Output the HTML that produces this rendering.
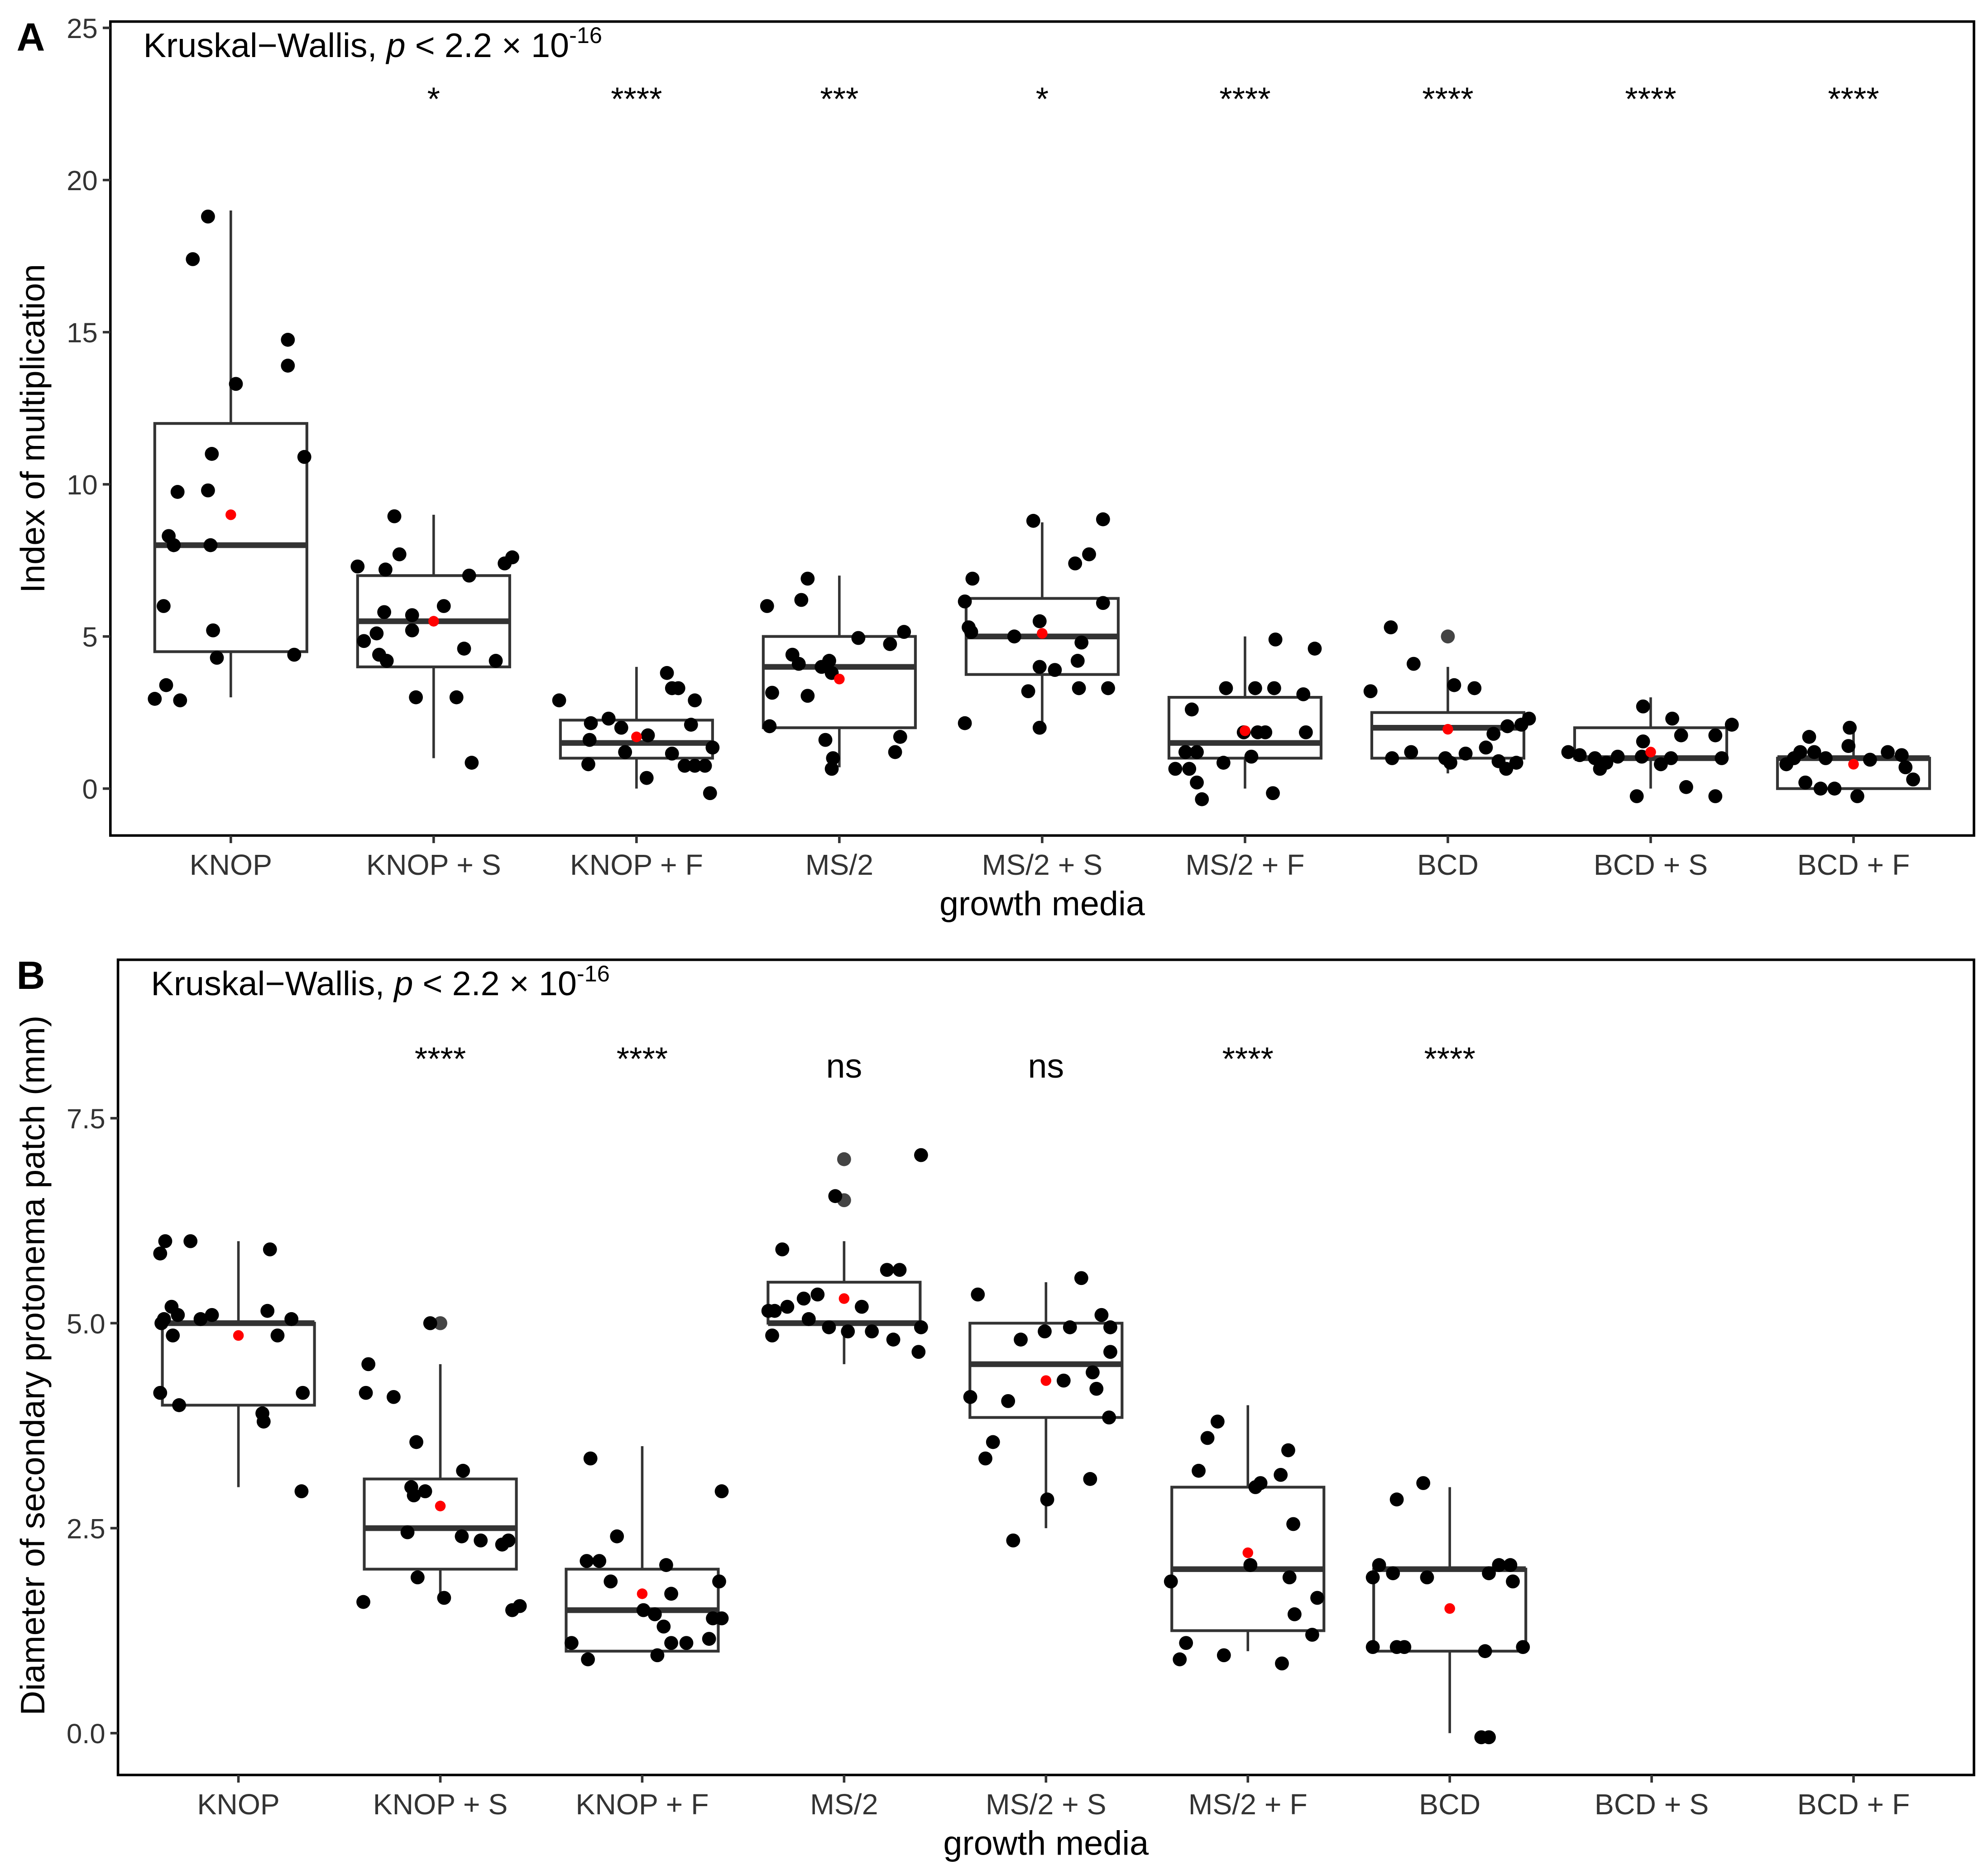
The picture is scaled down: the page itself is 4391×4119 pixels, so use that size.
<!DOCTYPE html>
<html><head><meta charset="utf-8"><style>
html,body{margin:0;padding:0;background:#fff}
svg{display:block}
text{font-family:"Liberation Sans",Arial,sans-serif}
</style></head><body>
<svg id="fig" width="4391" height="4119" viewBox="0 0 1568 1471" xmlns="http://www.w3.org/2000/svg">
<rect x="0" y="0" width="1568" height="1471" fill="#fff"/>
<g id="pA"></g>
<g id="pB"></g>
</svg>
<script>
const categories = ["KNOP","KNOP + S","KNOP + F","MS/2","MS/2 + S","MS/2 + F","BCD","BCD + S","BCD + F"];

// Panel A data
const aTicks = [0,5,10,15,20,25];
const aSig = ["","*","****","***","*","****","****","****","****"];
// box stats: [whiskerLow, q1, median, q3, whiskerHigh, mean]
const aStats = [
 [3,4.5,8,12,19,9],[1,4,5.5,7,9,5.5],[0,1,1.5,2.25,4,1.7],[0.7,2,4,5,7,3.6],[2,3.75,5,6.25,8.75,5.1],
 [0,1,1.5,3,5,1.9],[0.5,1,2,2.5,4,1.95],[0,1,1,2,3,1.2],[0,0,1,1,2,0.8]];
const aOutliers = [[],[],[],[],[],[],[5],[],[]];
const aValues = [
 [2.95,3.4,2.9,17.4,18.8,13.3,14.75,13.9,10.9,11,9.75,9.8,8.3,8,8,6,5.2,4.3,4.4],
 [7.3,7.2,7.7,8.95,7.4,7.6,7.0,6.0,5.7,5.8,4.85,5.1,4.2,4.4,5.2,4.6,4.2,3.0,3.0,0.85],
 [2.9,2.15,2.3,2.0,1.6,1.2,0.8,1.75,3.8,3.3,3.3,2.9,2.1,1.15,0.75,0.75,0.75,1.35,0.35,-0.15],
 [6.0,6.9,6.2,4.4,4.1,2.05,3.15,3.05,1.6,1.0,0.65,4.2,4.0,3.8,4.95,4.75,5.15,1.7,1.2],
 [6.15,6.9,5.3,5.15,5.0,8.8,5.5,4.0,3.9,4.2,4.8,8.85,7.7,7.4,6.1,3.3,3.3,3.2,2.0,2.15],
 [2.6,3.3,3.3,3.3,3.1,4.9,4.6,1.85,1.85,1.85,1.85,1.2,1.2,1.05,0.85,0.65,0.65,0.2,-0.35,-0.15],
 [5.3,3.2,4.1,3.4,3.3,1.0,1.2,1.0,0.85,1.35,0.9,0.65,0.85,1.8,2.05,2.3,2.1,1.15],
 [1.2,1.1,1.0,0.65,0.85,1.05,1.05,1.55,0.8,1.0,1.75,2.3,2.7,-0.25,0.05,-0.25,1.0,1.75,2.1],
 [0.8,1.0,1.2,1.7,1.2,1.0,2.0,1.4,0.95,1.2,1.1,0.7,0.3,0.2,0,0,-0.25]];
// horizontal jitter in 1/160 of a category step
const aJitter = [
 [-60,-51,-40,-30,-18,4,45,45,58,-15,-42,-18,-49,-45,-16,-53,-14,-11,50],
 [-60,-38,-27,-31,56,62,28,8,-17,-39,-55,-45,-37,-43,-17,24,49,-14,18,30],
 [-61,-36,-22,-12,-37,-9,-38,9,24,28,33,46,43,28,38,46,54,60,8,58],
 [-57,-25,-30,-37,-32,-55,-53,-25,-11,-5,-6,-8,-14,-6,15,40,51,48,44],
 [-61,-55,-58,-56,-22,-7,-2,-2,10,28,31,48,37,26,48,29,52,-11,-2,-61],
 [-42,-15,8,23,46,24,55,10,-1,16,48,-47,-38,5,-17,-55,-44,-38,-34,22],
 [-45,-61,-27,5,21,-44,-29,-2,2,30,40,46,54,36,47,64,58,14],
 [-65,-56,-44,-40,-35,-26,-7,-6,8,16,24,17,-6,-11,28,51,56,51,64],
 [-53,-47,-42,-35,-31,-22,-3,-4,13,27,38,41,47,-38,-26,-15,3]];

// Panel B data
const bTicks = [0,2.5,5,7.5];
const bTickLabels = ["0.0","2.5","5.0","7.5"];
const bSig = ["","****","****","ns","ns","****","****","",""];
const bStats = [
 [3,4,5,5,6,4.85],[1.6,2,2.5,3.1,4.5,2.77],[1,1,1.5,2,3.5,1.7],[4.5,5,5,5.5,6,5.3],[2.5,3.85,4.5,5,5.5,4.3],
 [1,1.25,2,3,4,2.2],[0,1,2,2,3,1.52],null,null];
const bOutliers = [[],[5],[],[7,6.5],[],[],[],[],[]];
const bValues = [
 [6.0,6.0,5.85,5.9,5.2,5.05,5.0,5.1,5.05,5.1,5.15,5.05,4.85,4.85,4.15,4.0,3.9,3.8,4.15,2.95],
 [4.5,4.15,4.1,5.0,3.55,3.2,3.0,2.95,2.9,2.45,2.4,2.35,2.3,2.35,1.9,1.65,1.6,1.5,1.55],
 [3.35,2.95,2.4,2.1,2.1,2.05,1.85,1.85,1.7,1.5,1.45,1.3,1.4,1.4,1.1,0.9,0.95,1.1,1.1,1.15],
 [6.55,7.05,5.9,5.65,5.65,5.15,5.15,5.2,5.3,5.35,5.2,5.05,4.95,4.9,4.85,4.9,4.8,4.95,4.65],
 [5.35,5.55,5.1,4.95,4.95,4.9,4.8,4.65,4.4,4.3,4.2,4.1,4.05,3.85,3.55,3.35,3.1,2.85,2.35],
 [3.8,3.6,3.45,3.2,3.15,3.05,3.0,2.55,2.05,1.85,1.9,1.65,1.45,1.2,1.1,0.95,0.9,0.85],
 [3.05,2.85,2.05,1.95,1.9,1.9,1.95,2.05,2.05,1.85,1.05,1.05,1.05,1.0,1.05,-0.05,-0.05],
 [],[]];
const bJitter = [
 [-58,-38,-62,25,-53,-59,-61,-48,-30,-21,23,42,-52,31,-62,-47,19,20,51,50],
 [-57,-59,-37,-8,-19,18,-23,-12,-21,-26,17,32,49,54,-18,3,-61,57,63],
 [-41,63,-20,-44,-34,19,61,-25,23,1,10,17,56,63,-56,-43,12,23,35,53],
 [-7,61,-49,34,44,-55,-60,-45,-32,-21,14,-28,-12,3,-57,22,39,61,59],
 [-54,28,44,51,19,-1,-20,51,37,14,40,-60,-30,50,-42,-48,35,1,-26],
 [-24,-32,32,-39,26,10,6,36,2,-61,33,55,37,51,-49,-19,-54,27],
 [-21,-42,-56,-45,-61,-18,31,39,48,50,-61,-42,-36,28,58,25,31],
 [],[]];

const NS = "http://www.w3.org/2000/svg";
function mk(parent, tag, attrs){ const e=document.createElementNS(NS,tag); for(const k in attrs) e.setAttribute(k,attrs[k]); parent.appendChild(e); return e; }

function drawPanel(g, cfg){
  const {x0,x1,y0,y1,yZero,yPerUnit,cx0,step,ticks,tickLabels,stats,outliers,values,jitter,sig,sigY,ytitle,label,labelX,labelY,titleX,titleY,halfW} = cfg;
  const yScale = v => yZero - v*yPerUnit;
  const xScale = i => cx0 + step*i;
  const fr = mk(g,"rect",{x:x0,y:y0,width:x1-x0,height:y1-y0,fill:"none",stroke:"#000","stroke-width":2});
  
  
  ticks.forEach((t,k)=>{
    const y=yScale(t);
    const l=mk(g,"line",{x1:x0-6,x2:x0,y1:y,y2:y,stroke:"#333","stroke-width":2});
    
    
    const tx=mk(g,"text",{x:x0-10,y:y+8,"text-anchor":"end","font-size":22,fill:"#333"});
    tx.textContent = tickLabels ? tickLabels[k] : String(t);
    
    
  });
  categories.forEach((c,i)=>{
    const x=xScale(i);
    const l=mk(g,"line",{x1:x,x2:x,y1:y1,y2:y1+6,stroke:"#333","stroke-width":2});
    
    
    const tx=mk(g,"text",{x:x,y:y1+31,"text-anchor":"middle","font-size":23,fill:"#333"});
    tx.textContent=c;
    
    
  });
  categories.forEach((c,i)=>{
    const s=stats[i]; if(!s) return;
    const x=xScale(i);
    const bg=mk(g,"g",{});
    
    
    mk(bg,"line",{x1:x,x2:x,y1:yScale(s[4]),y2:yScale(s[3]),stroke:"#333","stroke-width":2});
    mk(bg,"line",{x1:x,x2:x,y1:yScale(s[1]),y2:yScale(s[0]),stroke:"#333","stroke-width":2});
    mk(bg,"rect",{x:x-halfW,y:yScale(s[3]),width:2*halfW,height:Math.max(0,yScale(s[1])-yScale(s[3])),fill:"#fff",stroke:"#333","stroke-width":2.2});
    mk(bg,"line",{x1:x-halfW,x2:x+halfW,y1:yScale(s[2]),y2:yScale(s[2]),stroke:"#333","stroke-width":4.5});
  });
  outliers.forEach((arr,i)=>arr.forEach(v=>{
    const c=mk(g,"circle",{cx:xScale(i),cy:yScale(v),r:5.5,fill:"#444"});
    
    
  }));
  values.forEach((arr,i)=>arr.forEach((v,k)=>{
    const c=mk(g,"circle",{cx:xScale(i)+jitter[i][k]*step/160,cy:yScale(v),r:5.5,fill:"#000"});
    
    
  }));
  stats.forEach((s,i)=>{ if(!s) return;
    const c=mk(g,"circle",{cx:xScale(i),cy:yScale(s[5]),r:4.2,fill:"#f00"});
    
    
  });
  sig.forEach((t,i)=>{ if(!t) return;
    const isNs = t==="ns";
    const tx=mk(g,"text",{x:xScale(i),y:isNs?sigY+21:sigY+15,"text-anchor":"middle","font-size":isNs?27:26,fill:"#000"});
    tx.textContent=t;
    
    
  });
  const tt=mk(g,"text",{x:titleX,y:titleY,"font-size":27,fill:"#000"});
  tt.innerHTML='Kruskal\u2212Wallis, <tspan font-style="italic">p</tspan> &lt; 2.2 × 10<tspan font-size="18" dy="-11">-16</tspan>';
  
  
  const pl=mk(g,"text",{x:labelX,y:labelY,"font-size":31,"font-weight":"bold",fill:"#000"});
  pl.textContent=label;
  
  
  const xt=mk(g,"text",{x:(x0+x1)/2,y:y1+63,"text-anchor":"middle","font-size":27,fill:"#000"});
  xt.textContent="growth media";
  
  
  const ycx=35, ycy=cfg.yTitleY;
  const yt=mk(g,"text",{x:ycx,y:ycy,"text-anchor":"middle","font-size":27,fill:"#000",transform:`rotate(-90 ${ycx} ${ycy})`});
  yt.textContent=ytitle;
  
  
}

drawPanel(document.getElementById('pA'),{x0:87,x1:1557,y0:17,y1:659,yZero:622,yPerUnit:24,cx0:182,step:160,
  ticks:aTicks,tickLabels:null,stats:aStats,outliers:aOutliers,values:aValues,jitter:aJitter,sig:aSig,sigY:72,
  ytitle:"Index of multiplication",label:"A",labelX:13,labelY:40,titleX:113,titleY:45,halfW:60,yTitleY:338});
drawPanel(document.getElementById('pB'),{x0:93,x1:1557,y0:757,y1:1400,yZero:1367,yPerUnit:64.67,cx0:188,step:159.25,
  ticks:bTicks,tickLabels:bTickLabels,stats:bStats,outliers:bOutliers,values:bValues,jitter:bJitter,sig:bSig,sigY:829,
  ytitle:"Diameter of secondary protonema patch (mm)",label:"B",labelX:13,labelY:780,titleX:119,titleY:785,halfW:60,yTitleY:1077});
</script>
</body></html>
